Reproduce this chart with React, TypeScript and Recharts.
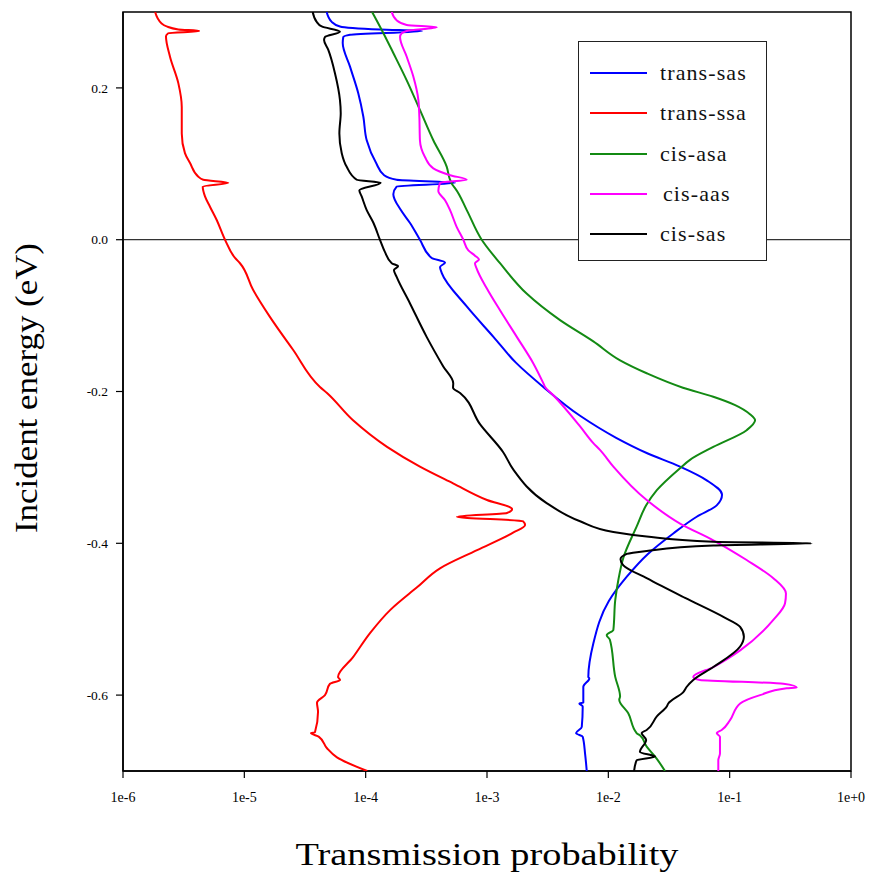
import React from 'react';
import { ScatterChart, Scatter, XAxis, YAxis, ReferenceLine, ReferenceArea, Legend } from 'recharts';

// [incident energy (eV), transmission probability]
const transSas: [number, number][] = [
  [0.300, 4.77e-5], [0.287, 5.25e-5], [0.281, 6.14e-5], [0.277, 1.31e-4], [0.275, 2.91e-4], [0.270, 7.43e-5],
  [0.267, 6.54e-5], [0.259, 6.47e-5], [0.228, 7.43e-5], [0.193, 8.69e-5], [0.162, 9.57e-5], [0.131, 1.02e-4],
  [0.101, 1.22e-4], [0.085, 1.42e-4], [0.079, 1.80e-4], [0.075, 5.45e-4], [0.070, 1.80e-4], [0.060, 1.69e-4],
  [0.039, 1.95e-4], [0.022, 2.32e-4], [0.0, 2.80e-4], [-0.024, 3.50e-4], [-0.030, 4.51e-4], [-0.036, 4.10e-4],
  [-0.044, 4.24e-4], [-0.088, 6.81e-4], [-0.128, 1.13e-3], [-0.162, 1.73e-3], [-0.194, 2.91e-3], [-0.232, 5.85e-3],
  [-0.261, 1.16e-2], [-0.281, 2.07e-2], [-0.299, 3.90e-2], [-0.317, 6.47e-2], [-0.336, 8.65e-2], [-0.350, 7.82e-2],
  [-0.365, 5.35e-2], [-0.387, 3.43e-2], [-0.414, 2.12e-2], [-0.444, 1.42e-2], [-0.476, 1.01e-2], [-0.532, 7.52e-3],
  [-0.576, 6.84e-3], [-0.578, 6.97e-3], [-0.589, 6.22e-3], [-0.610, 6.22e-3], [-0.611, 5.77e-3], [-0.615, 6.15e-3],
  [-0.642, 6.04e-3], [-0.650, 5.42e-3], [-0.655, 6.15e-3], [-0.677, 6.43e-3], [-0.700, 6.64e-3],
];

const transSsa: [number, number][] = [
  [0.300, 1.84e-6], [0.285, 2.08e-6], [0.281, 2.29e-6], [0.277, 2.86e-6], [0.275, 4.25e-6], [0.272, 2.36e-6],
  [0.268, 2.26e-6], [0.241, 2.44e-6], [0.206, 2.86e-6], [0.175, 3.05e-6], [0.140, 3.05e-6], [0.114, 3.24e-6],
  [0.101, 3.57e-6], [0.083, 4.18e-6], [0.079, 4.59e-6], [0.075, 7.38e-6], [0.070, 4.54e-6], [0.057, 4.74e-6],
  [0.0435, 5.21e-6], [0.026, 5.92e-6], [0.0, 6.93e-6], [-0.024, 8.38e-6], [-0.031, 9.21e-6], [-0.066, 1.18e-5],
  [-0.102, 1.63e-5], [-0.145, 2.52e-5], [-0.194, 4.2e-5], [-0.202, 4.8e-5], [-0.238, 7.87e-5], [-0.273, 1.5e-4],
  [-0.299, 2.8e-4], [-0.321, 5.25e-4], [-0.343, 1.0e-3], [-0.355, 1.61e-3], [-0.360, 1.46e-3], [-0.365, 5.66e-4],
  [-0.371, 1.98e-3], [-0.376, 2.06e-3], [-0.386, 1.64e-3], [-0.409, 8.28e-4], [-0.433, 4.1e-4], [-0.458, 2.65e-4],
  [-0.488, 1.59e-4], [-0.518, 1.09e-4], [-0.550, 7.87e-5], [-0.576, 5.92e-5], [-0.580, 6.15e-5], [-0.585, 5.08e-5],
  [-0.600, 4.62e-5], [-0.610, 3.97e-5], [-0.622, 4.05e-5], [-0.649, 3.82e-5], [-0.650, 3.54e-5], [-0.655, 4.12e-5],
  [-0.670, 4.8e-5], [-0.682, 5.8e-5], [-0.700, 1.03e-4],
];

const cisAsa: [number, number][] = [
  [0.300, 1.13e-4], [0.276, 1.36e-4], [0.246, 1.69e-4], [0.210, 2.18e-4], [0.171, 2.80e-4], [0.131, 3.61e-4],
  [0.096, 4.66e-4], [0.079, 4.96e-4], [0.072, 5.21e-4], [0.068, 5.45e-4], [0.039, 6.81e-4], [0.0, 9.04e-4],
  [-0.031, 1.28e-3], [-0.071, 2.12e-3], [-0.106, 4.0e-3], [-0.134, 7.52e-3], [-0.159, 1.25e-2], [-0.176, 2.07e-2],
  [-0.195, 4.12e-2], [-0.207, 7.33e-2], [-0.218, 0.111], [-0.230, 0.147], [-0.238, 0.162], [-0.251, 0.138],
  [-0.273, 7.33e-2], [-0.290, 4.71e-2], [-0.301, 3.90e-2], [-0.330, 2.51e-2], [-0.350, 2.05e-2], [-0.378, 1.71e-2],
  [-0.419, 1.33e-2], [-0.448, 1.21e-2], [-0.475, 1.14e-2], [-0.514, 1.10e-2], [-0.521, 9.70e-3], [-0.527, 1.03e-2],
  [-0.576, 1.14e-2], [-0.602, 1.25e-2], [-0.606, 1.23e-2], [-0.624, 1.46e-2], [-0.650, 1.71e-2], [-0.653, 1.82e-2],
  [-0.668, 2.07e-2], [-0.681, 2.43e-2], [-0.700, 2.93e-2],
];

const cisAas: [number, number][] = [
  [0.300, 1.64e-4], [0.289, 1.80e-4], [0.283, 2.18e-4], [0.280, 3.85e-4], [0.275, 2.18e-4], [0.272, 1.98e-4],
  [0.267, 1.92e-4], [0.241, 2.18e-4], [0.215, 2.47e-4], [0.184, 2.72e-4], [0.162, 2.77e-4], [0.131, 2.80e-4],
  [0.109, 3.08e-4], [0.094, 3.61e-4], [0.085, 4.96e-4], [0.079, 6.81e-4], [0.075, 4.10e-4], [0.064, 3.97e-4],
  [0.052, 4.51e-4], [0.039, 4.96e-4], [0.017, 5.62e-4], [0.0, 6.38e-4], [-0.014, 7.02e-4], [-0.021, 7.96e-4],
  [-0.026, 8.59e-4], [-0.031, 7.96e-4], [-0.038, 8.22e-4], [-0.064, 9.95e-4], [-0.093, 1.28e-3], [-0.128, 1.76e-3],
  [-0.163, 2.41e-3], [-0.189, 2.91e-3], [-0.194, 3.01e-3], [-0.205, 3.52e-3], [-0.246, 5.85e-3], [-0.268, 7.52e-3],
  [-0.277, 8.53e-3], [-0.299, 1.10e-2], [-0.343, 2.07e-2], [-0.374, 3.90e-2], [-0.396, 7.33e-2], [-0.422, 0.138],
  [-0.446, 0.229], [-0.466, 0.291], [-0.479, 0.286], [-0.501, 0.229], [-0.541, 0.122], [-0.563, 7.33e-2],
  [-0.576, 5.01e-2], [-0.580, 5.70e-2], [-0.585, 0.277], [-0.590, 0.357], [-0.591, 0.295], [-0.600, 0.178],
  [-0.611, 0.122], [-0.633, 0.1007], [-0.646, 8.59e-2], [-0.650, 7.82e-2], [-0.655, 8.32e-2], [-0.677, 8.32e-2],
  [-0.686, 8.06e-2], [-0.700, 8.06e-2],
];

const cisSas: [number, number][] = [
  [0.300, 3.66e-5], [0.287, 3.95e-5], [0.281, 4.34e-5], [0.274, 6.14e-5], [0.267, 4.62e-5], [0.263, 4.54e-5],
  [0.250, 4.92e-5], [0.219, 5.59e-5], [0.184, 6.14e-5], [0.167, 6.23e-5], [0.140, 6.07e-5], [0.114, 6.35e-5],
  [0.096, 6.98e-5], [0.079, 8.44e-5], [0.075, 1.33e-4], [0.065, 8.87e-5], [0.057, 9.27e-5], [0.039, 1.02e-4],
  [0.022, 1.16e-4], [0.0, 1.31e-4], [-0.016, 1.44e-4], [-0.031, 1.64e-4], [-0.035, 1.85e-4], [-0.040, 1.71e-4],
  [-0.049, 1.80e-4], [-0.084, 2.32e-4], [-0.128, 3.18e-4], [-0.167, 4.36e-4], [-0.189, 5.27e-4], [-0.195, 5.25e-4],
  [-0.202, 6.0e-4], [-0.243, 8.75e-4], [-0.280, 1.36e-3], [-0.303, 1.65e-3], [-0.347, 3.10e-3], [-0.371, 5.85e-3],
  [-0.385, 1.10e-2], [-0.391, 2.07e-2], [-0.398, 7.33e-2], [-0.400, 0.474], [-0.403, 7.33e-2], [-0.410, 2.07e-2],
  [-0.414, 1.42e-2], [-0.421, 1.26e-2], [-0.429, 1.33e-2], [-0.446, 2.07e-2], [-0.472, 4.29e-2], [-0.497, 8.87e-2],
  [-0.510, 0.122], [-0.523, 0.131], [-0.536, 0.122], [-0.563, 7.33e-2], [-0.580, 5.01e-2], [-0.589, 4.43e-2],
  [-0.596, 4.15e-2], [-0.611, 3.12e-2], [-0.615, 3.03e-2], [-0.628, 2.51e-2], [-0.646, 2.07e-2], [-0.650, 1.88e-2],
  [-0.659, 2.05e-2], [-0.675, 1.82e-2], [-0.681, 2.43e-2], [-0.686, 1.71e-2], [-0.700, 1.63e-2],
];

const seriesNames = ['trans-sas', 'trans-ssa', 'cis-asa', 'cis-aas', 'cis-sas'];
const seriesColors = ['#0000ff', '#ff0000', '#138a13', '#ff00ff', '#000000'];
const seriesData = [transSas, transSsa, cisAsa, cisAas, cisSas];

const xTicks = [1e-6, 1e-5, 1e-4, 1e-3, 1e-2, 1e-1, 1];
const yTicks = [-0.6, -0.4, -0.2, 0, 0.2];
const xTitle = 'Transmission probability';
const yTitle = 'Incident energy (eV)';

const SERIF = '"Liberation Serif", "DejaVu Serif", "Times New Roman", serif';

const fmtX = (v: number) => {
  const p = Math.round(Math.log10(v));
  return p >= 0 ? `1e+${p}` : `1e${p}`;
};
const fmtY = (v: number) => (Math.abs(v) < 1e-9 ? '0.0' : v.toFixed(1));

const toPoints = (arr: [number, number][]) => arr.map(([e, t]) => ({ e, t }));

function LegendBox() {
  return (
    <div
      style={{
        width: 189,
        height: 220,
        boxSizing: 'border-box',
        border: '1.5px solid #222',
        background: '#fff',
        position: 'relative',
        fontFamily: SERIF,
      }}
    >
      {seriesNames.map((n, i) => (
        <div key={n} style={{ position: 'absolute', left: 0, top: 31 + i * 40.3 - 15, height: 30, width: '100%' }}>
          <div style={{ position: 'absolute', left: 11, top: 14, width: 57, height: 2, background: seriesColors[i] }} />
          <span
            style={{
              position: 'absolute',
              left: i === 3 ? 84 : 81,
              top: 0,
              lineHeight: '30px',
              fontSize: 22,
              letterSpacing: 1.1,
              color: '#111',
              whiteSpace: 'nowrap',
            }}
          >
            {n}
          </span>
        </div>
      ))}
    </div>
  );
}

export default function App() {
  return (
    <div style={{ position: 'relative', width: 866, height: 864 }}>
      <ScatterChart width={866} height={864} margin={{ top: 4, right: 23, bottom: 0, left: 0 }}>
        <XAxis
          type="number"
          dataKey="t"
          scale="log"
          domain={[1e-6, 1]}
          ticks={xTicks}
          tickFormatter={fmtX}
          allowDataOverflow
          height={101}
          tick={{ fontSize: 14, fill: '#000', fontFamily: SERIF }}
          tickSize={7}
          tickMargin={14}
          axisLine={{ stroke: '#000', strokeWidth: 1.5 }}
          tickLine={{ stroke: '#000', strokeWidth: 1.2 }}
          interval={0}
        />
        <YAxis
          type="number"
          dataKey="e"
          domain={[-0.7, 0.3]}
          ticks={yTicks}
          tickFormatter={fmtY}
          allowDataOverflow
          width={115}
          tick={{ fontSize: 13.5, fill: '#000', fontFamily: SERIF }}
          tickSize={7}
          tickMargin={8}
          axisLine={{ stroke: '#000', strokeWidth: 1.5 }}
          tickLine={{ stroke: '#000', strokeWidth: 1.2 }}
          interval={0}
        />
        <ReferenceArea x1={1e-6} x2={1} y1={-0.7} y2={0.3} fill="none" stroke="#000" strokeWidth={1.5} ifOverflow="visible" />
        <ReferenceLine y={0} stroke="#333" strokeWidth={1.2} />
        {seriesData.map((d, i) => (
          <Scatter
            key={seriesNames[i]}
            name={seriesNames[i]}
            data={toPoints(d)}
            fill={seriesColors[i]}
            stroke={seriesColors[i]}
            line={{ stroke: seriesColors[i], strokeWidth: 2 }}
            lineJointType="monotoneY"
            shape={() => <g />}
            legendType="line"
            isAnimationActive={false}
          />
        ))}
        <Legend
          layout="vertical"
          align="center"
          verticalAlign="middle"
          content={() => <LegendBox />}
          wrapperStyle={{ left: 570, top: 33, width: 189, height: 220 }}
        />
      </ScatterChart>
      <svg
        width={866}
        height={864}
        style={{ position: 'absolute', left: 0, top: 0, pointerEvents: 'none' }}
      >
        <text
          x={479}
          y={857}
          textAnchor="middle"
          fontFamily={SERIF}
          fontSize={31}
          fill="#000"
          textLength={383}
          lengthAdjust="spacingAndGlyphs"
        >
          {xTitle}
        </text>
        <text
          x={29}
          y={380}
          transform="rotate(-90 29 380)"
          textAnchor="middle"
          fontFamily={SERIF}
          fontSize={31}
          fill="#000"
          textLength={290}
          lengthAdjust="spacingAndGlyphs"
        >
          {yTitle}
        </text>
      </svg>
    </div>
  );
}
